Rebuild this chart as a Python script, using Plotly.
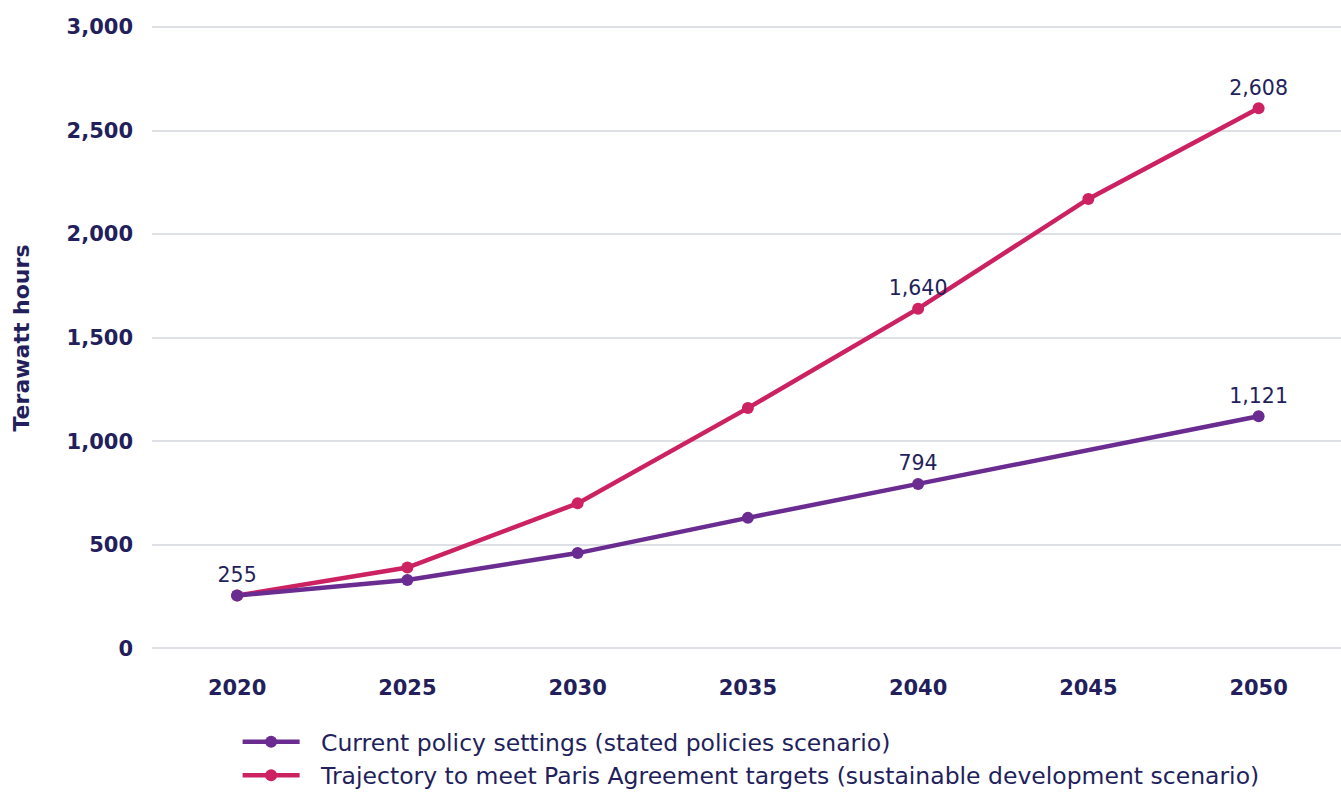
import plotly.graph_objects as go

# Electricity demand scenarios (terawatt hours)
years_current = [2020, 2025, 2030, 2035, 2040, 2050]
current_policy = [255, 330, 460, 630, 794, 1121]

years_paris = [2020, 2025, 2030, 2035, 2040, 2045, 2050]
paris_targets = [255, 390, 700, 1160, 1640, 2170, 2608]

y_ticks = [0, 500, 1000, 1500, 2000, 2500, 3000]
x_ticks = [2020, 2025, 2030, 2035, 2040, 2045, 2050]

# which points carry a value label
labelled_current = [2040, 2050]
labelled_paris = [2020, 2040, 2050]

NAVY = "#231f5c"
PURPLE = "#6a2c91"
RED = "#cc2262"
FONT = "DejaVu Sans"
GAP = "\u2002\u2009"  # extra room between legend swatch and its label


def labels(xs, ys, keep):
    return [f"{v:,}" if x in keep else "" for x, v in zip(xs, ys)]


fig = go.Figure()
fig.add_trace(go.Scatter(
    x=years_paris, y=paris_targets,
    mode="lines+markers+text",
    name=GAP + "Trajectory to meet Paris Agreement targets (sustainable development scenario)",
    line=dict(color=RED, width=4.5),
    marker=dict(color=RED, size=12),
    text=labels(years_paris, paris_targets, labelled_paris),
    textposition="top center",
    textfont=dict(family=FONT, size=20.5, color=NAVY),
    cliponaxis=False,
))
fig.add_trace(go.Scatter(
    x=years_current, y=current_policy,
    mode="lines+markers+text",
    name=GAP + "Current policy settings (stated policies scenario)",
    line=dict(color=PURPLE, width=4.5),
    marker=dict(color=PURPLE, size=12),
    text=labels(years_current, current_policy, labelled_current),
    textposition="top center",
    textfont=dict(family=FONT, size=20.5, color=NAVY),
    cliponaxis=False,
))

fig.update_layout(
    width=1341, height=792,
    margin=dict(l=152, r=0, t=26, b=142, autoexpand=False),
    plot_bgcolor="white", paper_bgcolor="white",
    font=dict(family=FONT, color=NAVY),
    legend=dict(
        orientation="v", x=0.072, y=0.091, yref="container",
        xanchor="left", yanchor="top",
        font=dict(family=FONT, size=23.5, color=NAVY),
        itemwidth=57, tracegroupgap=0, traceorder="reversed",
    ),
    xaxis=dict(
        range=[2017.5, 2052.42], tickvals=x_ticks, ticktext=[str(t) for t in x_ticks],
        showgrid=False, zeroline=False, showline=False, ticks="",
        tickfont=dict(family=FONT, size=21, color=NAVY, weight="bold"),
        ticklabelstandoff=23,
    ),
    yaxis=dict(
        range=[-8, 3005], tickvals=y_ticks, ticktext=[f"{t:,}" for t in y_ticks],
        showgrid=True, gridcolor="#dde1e6", gridwidth=2,
        zeroline=False, showline=False, ticks="",
        tickfont=dict(family=FONT, size=21, color=NAVY, weight="bold"),
        ticklabelstandoff=18,
        title=dict(text="Terawatt hours", standoff=30,
                   font=dict(family=FONT, size=22, color=NAVY, weight="bold")),
    ),
)

fig.write_html("out.html")
